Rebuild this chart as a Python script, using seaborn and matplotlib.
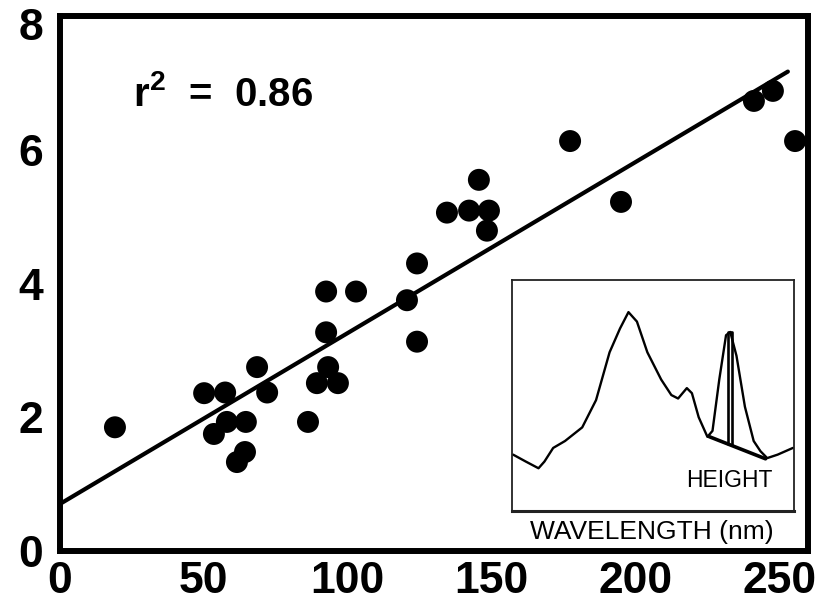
import numpy as np
import pandas as pd
import matplotlib
matplotlib.use("Agg")
import matplotlib.pyplot as plt
import matplotlib.transforms as mtransforms
import seaborn as sns

# ---- data ----
x_vals = [19.1, 50.1, 57.4, 68.5, 72.0, 58.0, 64.6, 53.5, 64.3, 61.5,
          92.5, 102.9, 92.5, 120.6, 124.1, 93.2, 89.3, 96.6, 86.2, 124.1,
          145.6, 134.5, 142.2, 149.1, 148.4, 177.3, 195.0, 241.2, 247.8, 255.5]
y_vals = [1.85, 2.36, 2.37, 2.75, 2.37, 1.93, 1.93, 1.75, 1.48, 1.33,
          3.88, 3.88, 3.27, 3.75, 3.13, 2.75, 2.51, 2.51, 1.93, 4.30,
          5.55, 5.06, 5.09, 5.09, 4.79, 6.13, 5.22, 6.73, 6.88, 6.13]
x_ticks = [0, 50, 100, 150, 200, 250]
y_ticks = [0, 2, 4, 6, 8]
r2_label = "0.86"

# inset spectrum (relative units)
spec_u = [0.004, 0.049, 0.094, 0.115, 0.146, 0.188, 0.249, 0.298, 0.346, 0.383,
          0.413, 0.443, 0.480, 0.529, 0.565, 0.589, 0.620, 0.638, 0.662, 0.693,
          0.711, 0.735, 0.759, 0.774, 0.796, 0.826, 0.857, 0.881, 0.905, 0.942, 0.996]
spec_v = [0.244, 0.214, 0.185, 0.214, 0.273, 0.303, 0.362, 0.480, 0.687, 0.790,
          0.861, 0.820, 0.687, 0.569, 0.502, 0.487, 0.532, 0.510, 0.406, 0.321,
          0.347, 0.569, 0.761, 0.775, 0.672, 0.451, 0.303, 0.259, 0.229, 0.244, 0.273]
base_u = [0.699, 0.899]
base_v = [0.322, 0.226]
height_u = [0.766, 0.766, 0.780, 0.780]
height_v = [0.290, 0.775, 0.775, 0.286]

sns.set_theme(style="white")
plt.rcParams['font.family'] = ['Liberation Sans', 'DejaVu Sans']
plt.rcParams['mathtext.fontset'] = 'custom'
plt.rcParams['mathtext.rm'] = 'Liberation Sans:bold'
plt.rcParams['mathtext.bf'] = 'Liberation Sans:bold'
plt.rcParams['mathtext.default'] = 'bf'
for k in ['text.color', 'axes.labelcolor', 'xtick.color', 'ytick.color']:
    plt.rcParams[k] = 'black'

fig = plt.figure(figsize=(8.17, 6.09), dpi=100)
ax = fig.add_axes([60/817, 1-551/609, (808-60)/817, (551-16)/609])

df = pd.DataFrame({"x": x_vals, "y": y_vals})
sns.scatterplot(data=df, x="x", y="y", ax=ax, s=250, color="black",
                edgecolor="none", zorder=3)

slope, intercept = np.polyfit(x_vals, y_vals, 1)
line_x = [0, 253]
line_df = pd.DataFrame({"x": line_x, "y": [intercept + slope*v for v in line_x]})
sns.lineplot(data=line_df, x="x", y="y", ax=ax, color="black", lw=3.0,
             estimator=None, zorder=4)

ax.set_xlim(0, 260)
ax.set_ylim(0, 8)
ax.set_xticks(x_ticks)
ax.set_yticks(y_ticks)
ax.set_xticklabels([str(t) for t in x_ticks], fontsize=32, fontweight="bold")
ax.set_yticklabels([str(t) for t in y_ticks], fontsize=32, fontweight="bold")
ax.tick_params(axis="both", length=0, colors="black")
ax.tick_params(axis="x", pad=7)
ax.tick_params(axis="y", pad=12)
ax.set_xlabel("")
ax.set_ylabel("")
for sp in ax.spines.values():
    sp.set_linewidth(4.3)
    sp.set_color("black")

# nudge the top y label down a bit, as in the reference
top_lab = ax.get_yticklabels()[-1]
top_lab.set_transform(top_lab.get_transform() +
                      mtransforms.ScaledTranslation(0, -8/100, fig.dpi_scale_trans))

ax.text(133/817, 1-95/609, "r$^{2}$  =  " + r2_label, transform=fig.transFigure,
        fontsize=29, fontweight="bold", ha="left", va="center", color="black")

# inset
ins = fig.add_axes([512/817, 1-511/609, (794-512)/817, (511-280)/609])
sns.lineplot(x=spec_u, y=spec_v, ax=ins, sort=False, estimator=None,
             color="black", lw=1.7, solid_joinstyle="round")
sns.lineplot(x=base_u, y=base_v, ax=ins, sort=False, estimator=None,
             color="black", lw=2.6)
sns.lineplot(x=height_u, y=height_v, ax=ins, sort=False, estimator=None,
             color="black", lw=1.9)
ins.set_xlim(0, 1)
ins.set_ylim(0, 1)
ins.set_xticks([])
ins.set_yticks([])
ins.set_xlabel("")
ins.set_ylabel("")
for sp in ins.spines.values():
    sp.set_linewidth(1.3)
    sp.set_color("#222222")
ins.spines["bottom"].set_linewidth(2.2)
ins.text(0.77, 0.13, "HEIGHT", transform=ins.transAxes, fontsize=16.5,
         ha="center", va="center", color="black")
fig.text(652/817, 1-532/609, "WAVELENGTH (nm)", fontsize=19,
         ha="center", va="center", color="black")

fig.savefig("out.png", dpi=100)
